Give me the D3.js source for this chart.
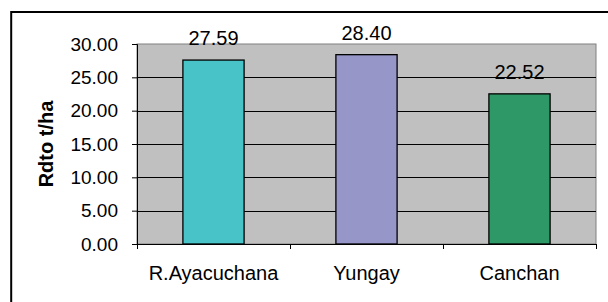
<!DOCTYPE html>
<html>
<head>
<meta charset="utf-8">
<script src="https://cdn.jsdelivr.net/npm/d3@7"></script>
<style>
    body { margin: 0; background: #ffffff; }
    svg { display: block; font-family: Arial, "Liberation Sans", sans-serif; }
</style>
</head>
<body>
<svg id="drawing_region"></svg>
<script>
// rendimiento por variedad
const categories = ["R.Ayacuchana", "Yungay", "Canchan"];
const yields = [27.59, 28.40, 22.52];
const yTicks = [0, 5, 10, 15, 20, 25, 30];
const yTitle = "Rdto t/ha";

var config = {
    parent: '#drawing_region',
    width: 608,
    height: 302,
    margin: {top:44, left:137, plot_width:459, plot_height:200},
    colors: ["#48C3C7", "#9696C9", "#2E9966"],
    font_size: 20,
    tick_font_size: 19
};

class BarChart {

    constructor( config, data ) {
        this.config = config;
        this.data = data;
        this.init();
    }

    init() {
        let self = this;

        self.svg = d3.select( self.config.parent )
            .attr('width', self.config.width)
            .attr('height', self.config.height);

        self.inner_width = self.config.margin.plot_width;
        self.inner_height = self.config.margin.plot_height;

        self.chart = self.svg.append('g')
            .attr('transform', `translate(${self.config.margin.left}, ${self.config.margin.top})`);

        self.xscale = d3.scaleBand()
            .domain( self.data.map( d => d.name ) )
            .range( [0, self.inner_width] )
            .paddingInner(0.6)
            .paddingOuter(0.3);

        // category boundaries for the tick marks
        self.xbound = d3.scaleLinear()
            .domain( [0, self.data.length] )
            .range( [0, self.inner_width] );

        self.yscale = d3.scaleLinear()
            .domain( [0, 30] )
            .range( [self.inner_height, 0] );
    }

    render() {
        let self = this;
        const fs = self.config.font_size;

        // outer frame (runs off the picture right and bottom)
        self.svg.append('rect')
            .attr('x', 11.2).attr('y', 12)
            .attr('width', 700).attr('height', 400)
            .attr('fill', 'none')
            .attr('stroke', '#000')
            .attr('stroke-width', 2);

        self.chart.append('rect')
            .attr('width', self.inner_width)
            .attr('height', self.inner_height)
            .attr('fill', '#c0c0c0')
            .attr('stroke', '#808080')
            .attr('stroke-width', 1);

        self.chart.selectAll('.grid')
            .data( yTicks.filter( t => t > 0 && t < 30 ) )
            .enter()
            .append('line')
            .attr('x1', 0)
            .attr('x2', self.inner_width)
            .attr('y1', d => Math.round( self.yscale(d) ) + 0.5 )
            .attr('y2', d => Math.round( self.yscale(d) ) + 0.5 )
            .attr('stroke', '#000')
            .attr('stroke-width', 1);

        self.chart.selectAll('.bar')
            .data(self.data)
            .enter()
            .append('rect')
            .attr('x', d => self.xscale( d.name ) )
            .attr('y', d => self.yscale( d.value ) )
            .attr('width', self.xscale.bandwidth())
            .attr('height', d => self.inner_height - self.yscale( d.value ) )
            .attr('fill', (d, i) => self.config.colors[i])
            .attr('stroke', '#000')
            .attr('stroke-width', 1.3);

        self.chart.selectAll('.value')
            .data(self.data)
            .enter()
            .append('text')
            .attr('x', d => self.xscale( d.name ) + self.xscale.bandwidth()/2 )
            .attr('y', d => self.yscale( d.value ) - 15 )
            .attr('text-anchor', 'middle')
            .style('font-size', fs + 'px')
            .attr('fill', '#000')
            .text( d => d3.format('.2f')( d.value ) );

        const yaxis = d3.axisLeft( self.yscale )
            .tickValues( yTicks )
            .tickFormat( d3.format('.2f') )
            .tickSize(5)
            .tickPadding(14);

        const yaxis_group = self.chart.append('g').call( yaxis );
        yaxis_group.select('.domain').attr('stroke', '#000');
        yaxis_group.selectAll('text')
            .style('font-size', self.config.tick_font_size + 'px')
            .style('font-family', 'Arial, "Liberation Sans", sans-serif')
            .attr('fill', '#000');

        const xaxis = d3.axisBottom( self.xbound )
            .tickValues( d3.range( 0, self.data.length + 1 ) )
            .tickFormat('')
            .tickSize(5)
            .tickSizeOuter(0);

        const xaxis_group = self.chart.append('g')
            .attr('transform', `translate(0, ${self.inner_height})`)
            .call( xaxis );
        xaxis_group.select('.domain').attr('stroke', '#000');

        self.chart.selectAll('.cat')
            .data(self.data)
            .enter()
            .append('text')
            .attr('x', d => self.xscale( d.name ) + self.xscale.bandwidth()/2 )
            .attr('y', self.inner_height + 36)
            .attr('text-anchor', 'middle')
            .style('font-size', fs + 'px')
            .text( d => d.name );

        self.svg.append('text')
            .attr('transform', `translate(53, ${self.config.margin.top + self.inner_height/2}) rotate(-90)`)
            .attr('text-anchor', 'middle')
            .style('font-size', '20px')
            .style('font-weight', 'bold')
            .text( yTitle );
    }
}

const data = categories.map( (c, i) => ({ name: c, value: yields[i] }) );
const bar_chart = new BarChart( config, data );
bar_chart.render();
</script>
</body>
</html>
